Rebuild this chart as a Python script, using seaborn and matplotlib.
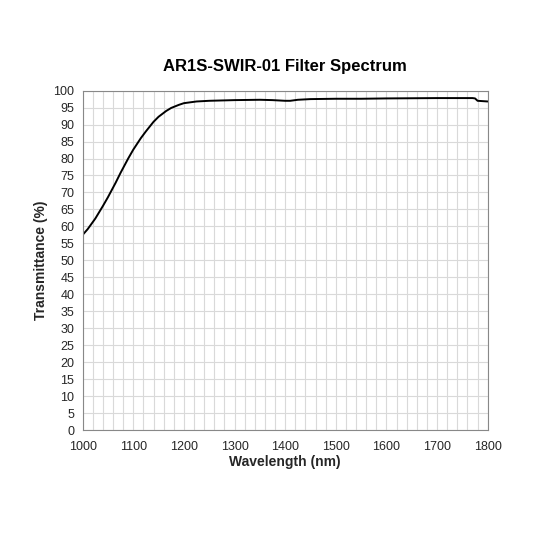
import numpy as np
import pandas as pd
import matplotlib
matplotlib.use("Agg")
import matplotlib.pyplot as plt
import seaborn as sns

wavelength = [1000, 1010, 1025, 1040, 1050, 1065, 1075, 1090, 1100, 1115, 1125, 1140, 1150, 1165,
              1175, 1190, 1200, 1225, 1250, 1300, 1350, 1375, 1400, 1410, 1425, 1450, 1500,
              1550, 1600, 1700, 1770, 1775, 1780, 1790, 1800]
transmittance = [57.5, 59.2, 62.3, 66.0, 68.6, 72.8, 75.8, 80.0, 82.6, 86.0, 88.0, 90.8, 92.3, 94.0,
                 94.9, 95.8, 96.3, 96.8, 97.0, 97.2, 97.3, 97.2, 97.0, 97.0, 97.3, 97.5, 97.6,
                 97.6, 97.7, 97.8, 97.8, 97.7, 97.0, 96.9, 96.8]

df = pd.DataFrame({"wl": wavelength, "t": transmittance})

sns.set_style("white")
plt.rcParams["font.family"] = ["Liberation Sans", "DejaVu Sans"]

fig, ax = plt.subplots(figsize=(5.33, 5.33), dpi=100)
fig.subplots_adjust(left=0.155, right=0.915, top=0.83, bottom=0.193)

sns.lineplot(data=df, x="wl", y="t", ax=ax, color="black", linewidth=1.4)

ax.set_xlim(1000, 1800)
ax.set_ylim(0, 100)
ax.set_xticks(range(1000, 1801, 100))
ax.set_xticks(range(1000, 1801, 20), minor=True)
ax.set_yticks(range(0, 101, 5))
ax.grid(True, which="both", color="#d9d9d9", linewidth=0.8)
ax.tick_params(which="both", length=0, labelsize=9)
ax.tick_params(axis="x", pad=8)
ax.tick_params(axis="y", pad=6)
for s in ax.spines.values():
    s.set_color("#888888")
    s.set_linewidth(0.8)

ax.set_xlabel("Wavelength (nm)", fontsize=10, fontweight="bold", labelpad=1)
ax.set_ylabel("Transmittance (%)", fontsize=10, fontweight="bold", labelpad=4)
ax.set_title("AR1S-SWIR-01 Filter Spectrum", fontsize=12, fontweight="bold", pad=14, color="black")

fig.savefig("out.png", dpi=100, facecolor="white")
